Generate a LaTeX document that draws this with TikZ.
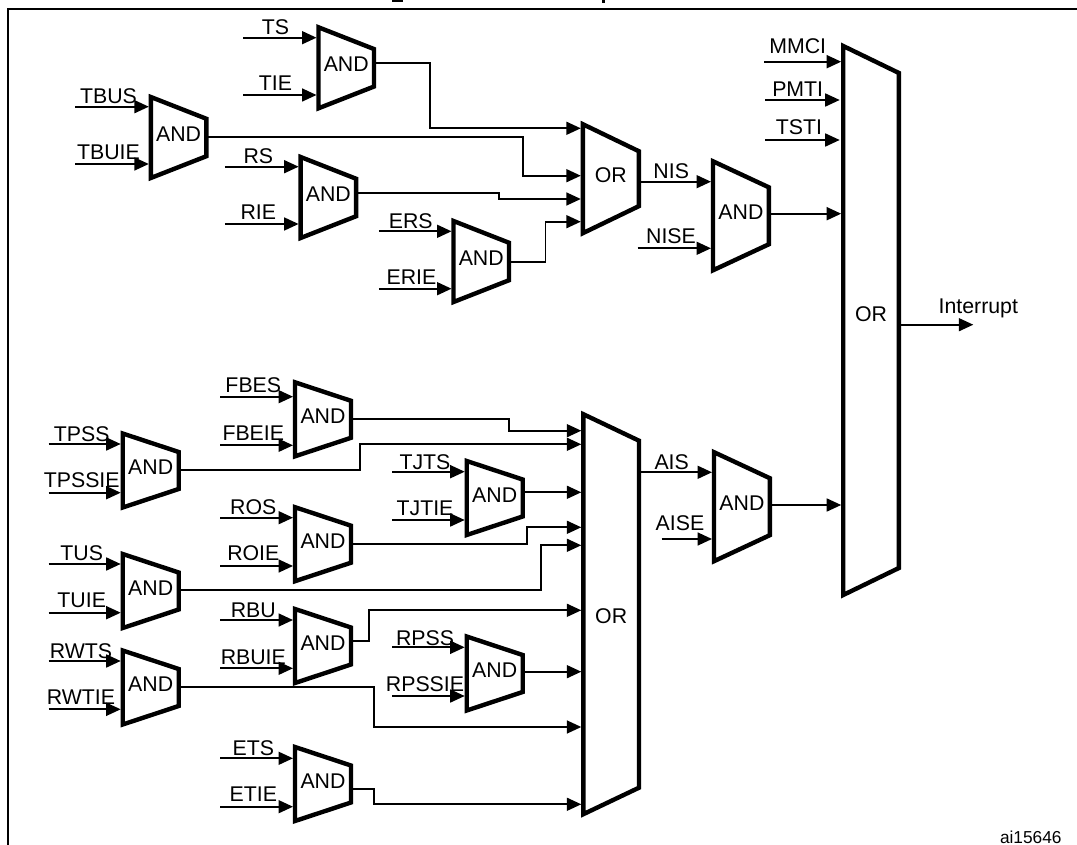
\documentclass[tikz,border=0pt]{standalone}
\usepackage{fontspec}
\setmainfont{Liberation Sans}
\usetikzlibrary{arrows.meta}
\tikzset{
	gatebody/.style={line width=4.4pt, line join=miter},
	gatetext/.style={font=\fontsize{21.3}{24}\selectfont, inner sep=0pt, outer sep=0pt},
	siglabel/.style={font=\fontsize{21.3}{24}\selectfont, inner sep=0pt, anchor=base},
	sig/.style={line width=1.7pt, -{Triangle[length=14.5pt,width=13pt]}, shorten >=2pt},
	sigshort/.style={sig, shorten >=3.5pt},
}
% [text shift], left x, middle y, width, left height, right height, text, name
\newcommand{\gate}[8][-3.2]{
	\draw[gatebody] (#2,#3-#5/2) -- (#2+#4,#3-#6/2) -- (#2+#4,#3+#6/2) -- (#2,#3+#5/2) -- cycle;
	\node[gatetext, minimum width=#4] (#8) at (#2+#4/2,#3+#1) {#7};
}
\begin{document}
\begin{tikzpicture}[x=1pt,y=-1pt]
	\useasboundingbox (0,0) rectangle (1077,845);
	%frame
	\draw[line width=2.2pt] (1077,8.8) -- (7.6,8.8) -- (7.6,845);
	%title, only its descenders are on the page
	\fill (392,0) rectangle (403,2.5);
	\fill (602,0) rectangle (605,3);
	\node[siglabel, font=\fontsize{17.3}{20}\selectfont] (code) at (1030.8,843.3) {ai15646};
	%upper gates
	\gate{318.5}{67.8}{55.5}{81}{37.5}{AND}{ts}
	\gate{150.8}{137.5}{55.5}{81}{37.5}{AND}{tbus}
	\gate{300.6}{197.5}{55.5}{81}{37.5}{AND}{rs}
	\gate{453.5}{261.5}{55.5}{81}{37.5}{AND}{ers}
	\gate{582.8}{178.7}{56}{109}{55}{OR}{orn}
	\gate{713}{215.8}{55.8}{109}{57}{AND}{nis}
	%lower gates
	\gate{295}{419.3}{56}{74}{37}{AND}{fbes}
	\gate{122.7}{470.5}{56}{74}{37}{AND}{tpss}
	\gate{295}{544.2}{56}{74}{37}{AND}{ros}
	\gate{122.7}{591}{56}{74}{37}{AND}{tus}
	\gate{466.7}{498}{56}{74}{37}{AND}{tjts}
	\gate{295}{646}{56}{74}{37}{AND}{rbu}
	\gate{466.7}{673.5}{56}{74}{37}{AND}{rpss}
	\gate{122.7}{687.5}{56}{74}{37}{AND}{rwts}
	\gate{295}{784}{56}{74}{37}{AND}{ets}
	\gate[1.5]{583.3}{614.2}{55.7}{400}{347}{OR}{ora}
	\gate{714}{506.7}{55.8}{109}{57}{AND}{ais}
	\gate[-6.2]{843.2}{320.5}{55.7}{549}{495}{OR}{main}
	%inputs
	\foreach \lab/\gt/\xs/\yy/\lx/\by in {
		TS/ts/243/37.7/275.5/34.3, TIE/ts/243/95/275.5/90.7,
		TBUS/tbus/75.4/106.7/108.5/104, TBUIE/tbus/75.4/164/108.5/160,
		RS/rs/224.9/166.7/258.3/163.3, RIE/rs/224.9/224/258.3/220,
		ERS/ers/378.8/231.3/410.8/228.7, ERIE/ers/378.8/288.7/411.5/284,
		NISE/nis/637.6/248.3/671/244,
		MMCI/main/764/61.7/797.7/54,
		FBES/fbes/220.3/396.7/253.3/392.7, FBEIE/fbes/220.3/445.3/253.3/440,
		TPSS/tpss/48.7/444/81.7/441, TPSSIE/tpss/48.7/492.7/81.7/487.7,
		ROS/ros/220.3/517.7/253.3/514.3, ROIE/ros/220.3/566/253.3/560.7,
		TUS/tus/48.7/564/81.7/560.7, TUIE/tus/48.7/612.7/81.7/607.3,
		TJTS/tjts/392.3/471.7/425/469, TJTIE/tjts/392.3/520/425/515,
		RBU/rbu/220.3/620/253.3/617.3, RBUIE/rbu/220.3/668.3/253.3/664,
		RPSS/rpss/392.3/647.3/425/645, RPSSIE/rpss/392.3/696/425/691,
		RWTS/rwts/48.7/661/81/658.3, RWTIE/rwts/48.7/709.3/81/704.3,
		ETS/ets/220.3/758.3/253.3/755, ETIE/ets/220.3/806.7/253.3/801.7,
		AISE/ais/661.7/539/680/530}
	{
		\coordinate (s-\lab) at (\xs,\yy);
		\draw[sig] (s-\lab) -- (\gt.west |- s-\lab);
		\node[siglabel] (l-\lab) at (\lx,\by) {\lab};
	}
	\coordinate (s-PMTI) at (765.3,100);
	\coordinate (s-TSTI) at (765.3,140);
	\draw[sigshort] (s-PMTI) -- (main.west |- s-PMTI);
	\draw[sigshort] (s-TSTI) -- (main.west |- s-TSTI);
	\node[siglabel] (l-PMTI) at (797.7,96.7) {PMTI};
	\node[siglabel] (l-TSTI) at (799,135) {TSTI};
	%gate to gate
	\draw[sig] (orn.east |- 0,181.7) -- (nis.west |- 0,181.7);
	\node[siglabel] (l-NIS) at (671.2,179) {NIS};
	\draw[sig] (ora.east |- 0,472.3) -- (ais.west |- 0,472.3);
	\node[siglabel] (l-AIS) at (671.7,469) {AIS};
	\draw[sig] (nis.east |- 0,213.7) -- (main.west |- 0,213.7);
	\draw[sig] (ais.east |- 0,505) -- (main.west |- 0,505);
	\coordinate (out) at (975.3,324.7);
	\draw[sig] (main.east |- out) -- (out);
	\node[siglabel] (l-out) at (978.3,313.3) {Interrupt};
	%upper wires
	\draw[sig] (ts.east |- 0,63.3) -- (429.8,63.3) -- (429.8,128.3) -- (orn.west |- 0,128.3);
	\draw[sig] (tbus.east |- 0,137) -- (522.7,137) -- (522.7,175.7) -- (orn.west |- 0,175.7);
	\draw[sig] (rs.east |- 0,192.7) -- (499.3,192.7) -- (499.3,199) -- (orn.west |- 0,199);
	\draw[sig] (ers.east |- 0,262.3) -- (545.5,262.3) -- (545.5,221.7) -- (orn.west |- 0,221.7);
	%lower wires
	\draw[sig] (fbes.east |- 0,419.3) -- (509,419.3) -- (509,430.7) -- (ora.west |- 0,430.7);
	\draw[sig] (tpss.east |- 0,470) -- (360,470) -- (360,444.3) -- (ora.west |- 0,444.3);
	\draw[sig] (tjts.east |- 0,492.3) -- (ora.west |- 0,492.3);
	\draw[sig] (ros.east |- 0,544) -- (526.7,544) -- (526.7,527.3) -- (ora.west |- 0,527.3);
	\draw[sig] (tus.east |- 0,590) -- (541,590) -- (541,545.3) -- (ora.west |- 0,545.3);
	\draw[sig] (rbu.east |- 0,641) -- (369,641) -- (369,610.3) -- (ora.west |- 0,610.3);
	\draw[sig] (rpss.east |- 0,671.7) -- (ora.west |- 0,671.7);
	\draw[sig] (rwts.east |- 0,687.3) -- (374,687.3) -- (374,727) -- (ora.west |- 0,727);
	\draw[sig] (ets.east |- 0,789) -- (374,789) -- (374,804.3) -- (ora.west |- 0,804.3);
\end{tikzpicture}
\end{document}
